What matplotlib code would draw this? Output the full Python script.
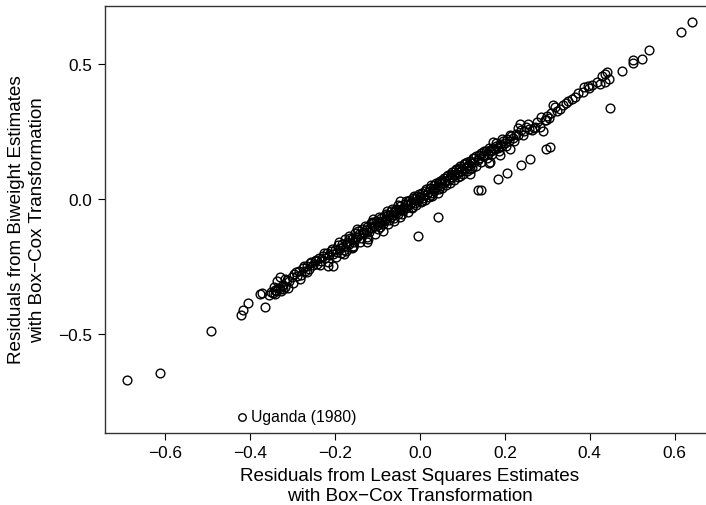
import matplotlib
matplotlib.use("Agg")
import matplotlib.pyplot as plt

plt.rcParams['font.family'] = ['Liberation Sans', 'DejaVu Sans']

# residuals
# lower tail
ls_tail = [-0.689, -0.612, -0.492, -0.422, -0.418, -0.405, -0.365, -0.376, -0.372,
           -0.341, -0.329, -0.336, -0.322]
bw_tail = [-0.670, -0.644, -0.489, -0.428, -0.413, -0.384, -0.400, -0.352, -0.350,
           -0.352, -0.289, -0.303, -0.333]

# main band, left part
ls_left = [-0.355, -0.350, -0.346, -0.342, -0.338, -0.334, -0.330, -0.326, -0.322, -0.318,
           -0.313, -0.308, -0.302, -0.296, -0.290, -0.285, -0.280, -0.276, -0.271, -0.266,
           -0.262, -0.258, -0.252, -0.247, -0.243, -0.238, -0.233, -0.228, -0.224, -0.219,
           -0.214, -0.209, -0.205]
bw_left = [-0.357, -0.345, -0.350, -0.338, -0.342, -0.330, -0.335, -0.322, -0.318, -0.325,
           -0.300, -0.305, -0.290, -0.278, -0.285, -0.266, -0.280, -0.256, -0.265, -0.248,
           -0.258, -0.238, -0.245, -0.230, -0.242, -0.220, -0.230, -0.210, -0.220, -0.200,
           -0.208, -0.192, -0.204]

# main band, dense middle
ls_mid = [-0.200, -0.196, -0.192, -0.188, -0.184, -0.180, -0.176, -0.172, -0.168, -0.164,
          -0.160, -0.156, -0.152, -0.148, -0.144, -0.140, -0.136, -0.132, -0.128, -0.124,
          -0.120, -0.116, -0.112, -0.108, -0.104, -0.100, -0.096, -0.092, -0.088, -0.084,
          -0.080, -0.076, -0.072, -0.068, -0.064, -0.060, -0.056, -0.052, -0.048, -0.044,
          -0.040, -0.036, -0.032, -0.028, -0.024, -0.020, -0.016, -0.012, -0.008, -0.004,
          0.000, 0.004, 0.008, 0.012, 0.016, 0.020, 0.024, 0.028, 0.032, 0.036,
          0.040, 0.044, 0.048, 0.052, 0.056, 0.060, 0.064, 0.068, 0.072, 0.076,
          0.080, 0.084, 0.088, 0.092, 0.096, 0.100, 0.104, 0.108, 0.112, 0.116,
          0.120, 0.124, 0.128, 0.132, 0.136, 0.140, 0.144, 0.148,
          -0.150, -0.110, -0.090, -0.070, -0.050, -0.030, -0.010, 0.010, 0.030, 0.050,
          0.070, 0.090, 0.110, -0.062, -0.042, -0.018, 0.006, 0.026, 0.046, -0.125,
          -0.158, -0.185, 0.094, 0.118, -0.098,
          -0.148, -0.125, -0.158, -0.087, -0.078, -0.047, -0.179, -0.216, -0.204, -0.172,
          -0.111, 0.172, 0.235, 0.212, 0.165, 0.118]
bw_mid = [-0.190, -0.198, -0.172, -0.183, -0.168, -0.190, -0.150, -0.165, -0.168, -0.144,
          -0.147, -0.160, -0.126, -0.142, -0.130, -0.146, -0.110, -0.126, -0.114, -0.102,
          -0.123, -0.090, -0.108, -0.100, -0.080, -0.098, -0.084, -0.070, -0.092, -0.064,
          -0.074, -0.060, -0.078, -0.046, -0.058, -0.050, -0.036, -0.055, -0.026, -0.040,
          -0.032, -0.018, -0.035, -0.008, -0.020, -0.012, 0.002, -0.015, 0.012, -0.002,
          0.008, 0.022, 0.004, 0.030, 0.018, 0.026, 0.042, 0.024, 0.050, 0.040,
          0.046, 0.064, 0.048, 0.072, 0.060, 0.066, 0.086, 0.070, 0.094, 0.082,
          0.090, 0.108, 0.094, 0.116, 0.104, 0.110, 0.130, 0.114, 0.138, 0.126,
          0.132, 0.150, 0.136, 0.158, 0.146, 0.152, 0.170, 0.158,
          -0.140, -0.090, -0.080, -0.060, -0.040, -0.022, 0.004, 0.016, 0.036, 0.058,
          0.080, 0.100, 0.122, -0.070, -0.054, -0.030, -0.006, 0.014, 0.036, -0.140,
          -0.175, -0.200, 0.085, 0.112, -0.112,
          -0.111, -0.159, -0.178, -0.118, -0.044, -0.007, -0.204, -0.248, -0.248, -0.159,
          -0.074, 0.211, 0.278, 0.185, 0.137, 0.093]

# further points thickening the band
ls_fill = [-0.245, -0.236, -0.226, -0.217, -0.207, -0.198, -0.190, -0.182, -0.174, -0.166,
           -0.160, -0.154, -0.146, -0.141, -0.135, -0.129, -0.123, -0.118, -0.113, -0.106,
           -0.102, -0.097, -0.093, -0.085, -0.081, -0.075, -0.069, -0.066, -0.061, -0.055,
           -0.051, -0.046, -0.039, -0.034, -0.029, -0.023, -0.019, -0.013, -0.009, -0.003,
           0.002, 0.006, 0.011, 0.015, 0.021, 0.025, 0.029, 0.034, 0.038, 0.043,
           0.047, 0.053, 0.057, 0.062, 0.066, 0.071, 0.075, 0.081, 0.086, 0.090,
           0.095, 0.101, 0.106, 0.111, 0.117, 0.122, 0.127, 0.133, 0.138, 0.145,
           0.151, 0.158, 0.163, 0.170, 0.178, 0.186, 0.193, 0.203, 0.212, 0.222,
           0.230, 0.242, 0.254, 0.268, 0.284, 0.297, 0.318, 0.343, 0.372, 0.398,
           -0.300, -0.292, -0.283, -0.274, -0.265, -0.256, -0.344, -0.327, -0.317, -0.310]
bw_fill = [-0.225, -0.246, -0.200, -0.232, -0.185, -0.214, -0.160, -0.176, -0.192, -0.138,
           -0.180, -0.150, -0.120, -0.160, -0.124, -0.100, -0.148, -0.108, -0.085, -0.128,
           -0.090, -0.066, -0.105, -0.080, -0.054, -0.092, -0.066, -0.036, -0.082, -0.048,
           -0.024, -0.066, -0.040, -0.008, -0.050, -0.004, -0.034, 0.010, -0.022, 0.020,
           -0.012, 0.024, -0.004, 0.036, 0.008, 0.050, 0.012, 0.030, 0.058, 0.024,
           0.068, 0.040, 0.078, 0.050, 0.090, 0.058, 0.100, 0.072, 0.112, 0.080,
           0.124, 0.094, 0.132, 0.104, 0.140, 0.116, 0.152, 0.124, 0.164, 0.136,
           0.178, 0.150, 0.190, 0.166, 0.206, 0.178, 0.222, 0.198, 0.238, 0.214,
           0.262, 0.238, 0.276, 0.262, 0.302, 0.292, 0.340, 0.356, 0.392, 0.410,
           -0.312, -0.270, -0.298, -0.250, -0.272, -0.232, -0.325, -0.342, -0.296, -0.330]

# main band, right part
ls_right = [0.152, 0.156, 0.160, 0.164, 0.168, 0.172, 0.176, 0.180, 0.184, 0.188,
            0.192, 0.196, 0.200, 0.205, 0.210, 0.215, 0.220, 0.226, 0.232, 0.238,
            0.244, 0.250, 0.256, 0.264, 0.271, 0.276, 0.282, 0.289, 0.294, 0.300,
            0.303, 0.308, 0.313, 0.322, 0.329, 0.336, 0.348, 0.358, 0.365, 0.384,
            0.386, 0.395, 0.405, 0.416, 0.424, 0.430, 0.435, 0.437, 0.440, 0.445,
            0.476, 0.501, 0.501, 0.522, 0.539, 0.614, 0.642]
bw_right = [0.164, 0.176, 0.168, 0.182, 0.176, 0.190, 0.184, 0.198, 0.190, 0.204,
            0.198, 0.214, 0.206, 0.222, 0.216, 0.232, 0.226, 0.242, 0.238, 0.254,
            0.250, 0.266, 0.260, 0.256, 0.267, 0.284, 0.267, 0.252, 0.293, 0.306,
            0.300, 0.318, 0.348, 0.326, 0.333, 0.348, 0.363, 0.370, 0.378, 0.396,
            0.415, 0.419, 0.422, 0.433, 0.426, 0.456, 0.433, 0.463, 0.470, 0.444,
            0.474, 0.504, 0.515, 0.518, 0.552, 0.618, 0.655]

# points below the band
ls_low = [-0.005, 0.042, 0.137, 0.144, 0.184, 0.205, 0.238, 0.259, 0.296, 0.306,
          0.447, 0.162, 0.188]
bw_low = [-0.137, -0.067, 0.033, 0.033, 0.074, 0.096, 0.126, 0.148, 0.185, 0.193,
          0.337, 0.133, 0.163]

uganda_ls = -0.419
uganda_bw = -0.807

ls_all = ls_tail + ls_left + ls_mid + ls_fill + ls_right + ls_low
bw_all = bw_tail + bw_left + bw_mid + bw_fill + bw_right + bw_low

fig = plt.figure(figsize=(7.06, 5.06), dpi=100)
ax = fig.add_axes([0.1487, 0.1427, 0.864, 0.8425])

ax.plot(ls_all, bw_all, 'o', mfc='none', mec='black', ms=6.3, mew=1.0)
ax.plot([uganda_ls], [uganda_bw], 'o', mfc='none', mec='black', ms=5.4, mew=1.0)
ax.text(uganda_ls + 0.022, uganda_bw, 'Uganda (1980)', fontsize=11.3, va='center', ha='left')

ax.set_xlim(-0.742, 0.695)
ax.set_ylim(-0.866, 0.713)
ax.set_xticks([-0.6, -0.4, -0.2, 0.0, 0.2, 0.4, 0.6])
ax.set_yticks([-0.5, 0.0, 0.5])
ax.set_xticklabels(['\u22120.6', '\u22120.4', '\u22120.2', '0.0', '0.2', '0.4', '0.6'])
ax.set_yticklabels(['\u22120.5', '0.0', '0.5'])
ax.tick_params(direction='out', length=5, width=0.8, labelsize=12.4, pad=4, colors='black')
for s in ax.spines.values():
    s.set_linewidth(1.0)
    s.set_color('#333333')

fig.text(410 / 706, 1 - 477 / 506, 'Residuals from Least Squares Estimates',
         ha='center', va='center', fontsize=13.6)
fig.text(410 / 706, 1 - 497 / 506, 'with Box\u2212Cox Transformation',
         ha='center', va='center', fontsize=13.6)
fig.text(17 / 706, 1 - 220 / 506, 'Residuals from Biweight Estimates',
         ha='center', va='center', rotation=90, fontsize=13.6)
fig.text(38 / 706, 1 - 220 / 506, 'with Box\u2212Cox Transformation',
         ha='center', va='center', rotation=90, fontsize=13.6)

fig.savefig('out.png', dpi=100)
